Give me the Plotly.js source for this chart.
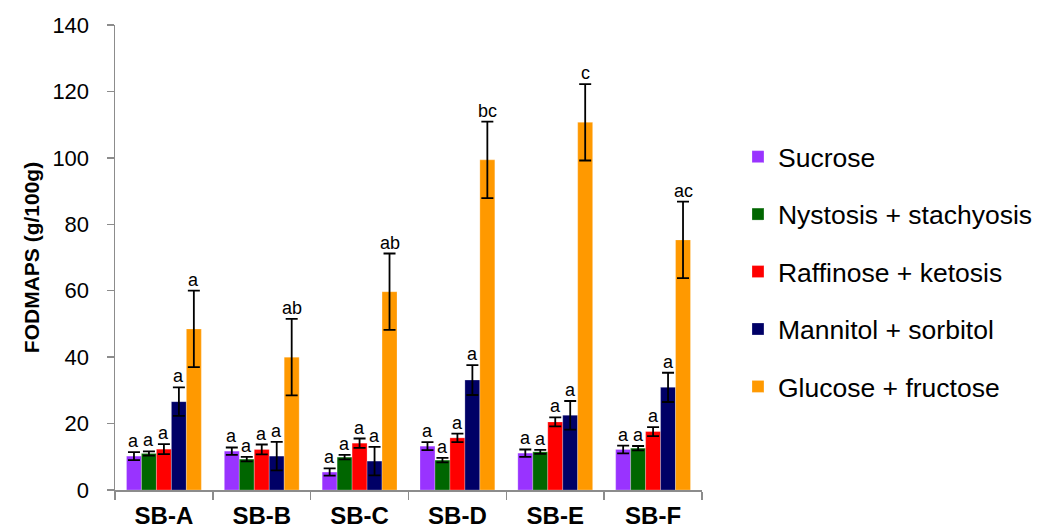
<!DOCTYPE html>
<html>
<head>
<meta charset="utf-8">
<script src="https://cdn.plot.ly/plotly-3.0.1.min.js"></script>
<style>html,body{margin:0;padding:0;background:#fff;}#chart{width:1038px;height:532px;}</style>
</head>
<body>
<div id="chart"></div>
<script>
var categories = ["SB-A", "SB-B", "SB-C", "SB-D", "SB-E", "SB-F"];
var seriesNames = ["Sucrose", "Nystosis + stachyosis", "Raffinose + ketosis", "Mannitol + sorbitol", "Glucose + fructose"];
var sucrose = [10.2, 11.7, 5.4, 13.2, 11.1, 12.2];
var sucroseErr = [1.2, 1.1, 1.1, 1.2, 1.1, 1.15];
var nystosis = [11.0, 9.3, 9.9, 9.0, 11.5, 12.6];
var nystosisErr = [0.65, 0.7, 0.65, 0.7, 0.6, 0.65];
var raffinose = [12.3, 12.2, 14.1, 15.7, 20.5, 17.6];
var raffinoseErr = [1.5, 1.5, 1.4, 1.3, 1.35, 1.35];
var mannitol = [26.6, 10.2, 8.7, 33.1, 22.5, 30.9];
var mannitolErr = [4.3, 4.3, 4.3, 4.5, 4.3, 4.4];
var glucose = [48.5, 40.0, 59.7, 99.4, 110.7, 75.3];
var glucoseErr = [11.5, 11.5, 11.5, 11.5, 11.5, 11.5];
var sucroseLetters = ["a", "a", "a", "a", "a", "a"];
var nystosisLetters = ["a", "a", "a", "a", "a", "a"];
var raffinoseLetters = ["a", "a", "a", "a", "a", "a"];
var mannitolLetters = ["a", "a", "a", "a", "a", "a"];
var glucoseLetters = ["a", "ab", "ab", "bc", "c", "ac"];
var colors = ["#9933FF", "#006600", "#FF0000", "#000066", "#FF9900"];

var values = [sucrose, nystosis, raffinose, mannitol, glucose];
var errors = [sucroseErr, nystosisErr, raffinoseErr, mannitolErr, glucoseErr];
var letters = [sucroseLetters, nystosisLetters, raffinoseLetters, mannitolLetters, glucoseLetters];

var FONT = "Liberation Sans, Arial, sans-serif";
var W = 1038, H = 532;
var margin = {l: 115, r: 336, t: 25, b: 42, pad: 0, autoexpand: false};
var bargap = 0.235;
var plotW = W - margin.l - margin.r;
var barW = plotW / categories.length * (1 - bargap) / values.length;

var traces = [];
var annotations = [];
for (var i = 0; i < values.length; i++) {
  traces.push({
    type: "bar",
    name: seriesNames[i],
    x: categories,
    y: values[i],
    legendgroup: "g" + i,
    marker: {color: colors[i], line: {color: "rgba(255,255,255,0.5)", width: 0.5}},
    error_y: {type: "data", array: errors[i], visible: true, color: "#000", thickness: 1.8, width: 6}
  });
  for (var j = 0; j < categories.length; j++) {
    annotations.push({
      x: categories[j],
      y: values[i][j] + errors[i][j],
      xref: "x", yref: "y",
      text: letters[i][j],
      showarrow: false,
      xanchor: "center", yanchor: "bottom",
      xshift: (i - (values.length - 1) / 2) * barW,
      yshift: -1,
      font: {family: FONT, size: 18, color: "#000"}
    });
  }
}

var layout = {
  width: W, height: H,
  margin: margin,
  paper_bgcolor: "#fff", plot_bgcolor: "#fff",
  barmode: "group",
  bargap: bargap,
  bargroupgap: 0,
  showlegend: true,
  font: {family: FONT, color: "#000"},
  legend: {
    x: 1.0613, xanchor: "left", y: 0.469, yanchor: "middle",
    font: {family: FONT, size: 26.5, color: "#000"},
    traceorder: "grouped", tracegroupgap: 20,
    bgcolor: "rgba(0,0,0,0)"
  },
  xaxis: {
    type: "category",
    showline: true, linecolor: "#8c8c8c", linewidth: 1.5,
    ticks: "outside", tickson: "boundaries", ticklen: 8, tickcolor: "#8c8c8c", tickwidth: 1.5,
    ticklabelstandoff: 4,
    showgrid: false, zeroline: false,
    tickfont: {family: FONT, size: 24, color: "#000", weight: "bold"},
    automargin: false,
    fixedrange: true
  },
  yaxis: {
    range: [0, 140], dtick: 20,
    showline: true, linecolor: "#8c8c8c", linewidth: 1.5,
    ticks: "outside", ticklen: 7, tickcolor: "#8c8c8c", tickwidth: 1.5,
    ticklabelstandoff: 13,
    showgrid: false, zeroline: false,
    tickfont: {family: FONT, size: 22, color: "#000"},
    title: {text: "<b>FODMAPS (g/100g)</b>", font: {family: FONT, size: 21, color: "#000"}, standoff: 7},
    automargin: false,
    fixedrange: true
  },
  annotations: annotations
};

Plotly.newPlot("chart", traces, layout, {displayModeBar: false, staticPlot: true});
</script>
</body>
</html>
